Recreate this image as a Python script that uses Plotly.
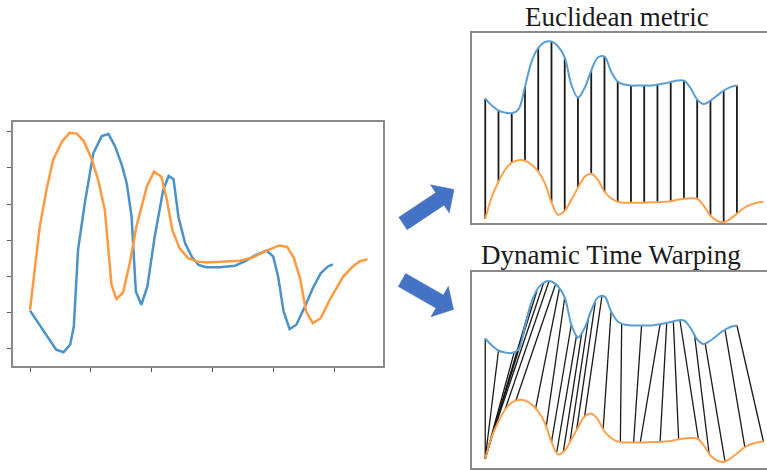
import numpy as np
import plotly.graph_objects as go

W, H = 767, 470

# ---------------- left panel data (two raw series) ----------------
left_blue_x = [0, 2.2, 4.3, 5.5, 6.6, 7.2, 7.9, 9.0, 10.4, 11.8, 12.9, 14.0, 15.1, 15.9, 16.7,
               17.4, 18.3, 19.3, 20.5, 21.9, 22.8, 23.6, 24.4, 25.5, 26.6, 27.7, 29.0, 31.2,
               33.7, 35.3, 37.2, 38.9, 40.0, 40.8, 41.7, 42.7, 43.8, 45.2, 46.5, 47.8, 49.0, 49.8]
left_blue_y = [-1.94, -2.51, -3.02, -3.09, -2.88, -2.38, -0.26, 1.02, 2.40, 2.88, 2.94, 2.59, 2.08,
               1.58, 0.66, -1.41, -1.78, -1.27, 0.10, 1.39, 1.78, 1.69, 0.66, -0.08, -0.45, -0.68,
               -0.74, -0.74, -0.70, -0.58, -0.40, -0.28, -0.45, -1.00, -1.96, -2.45, -2.33, -1.83,
               -1.32, -0.91, -0.72, -0.66]
left_orange_x = [0, 0.8, 1.6, 2.7, 3.8, 5.2, 6.5, 7.7, 8.8, 10.1, 11.2, 12.3, 13.4, 14.2, 15.3,
                 16.4, 17.5, 19.2, 20.4, 21.6, 22.5, 23.4, 24.6, 26.0, 27.4, 29.0, 34.5, 36.7,
                 38.9, 41.0, 42.3, 43.4, 44.4, 45.4, 46.5, 47.8, 49.3, 51.5, 53.1, 54.2, 55.5]
left_orange_y = [-1.92, -0.72, 0.38, 1.39, 2.22, 2.72, 2.97, 2.95, 2.75, 2.26, 1.67, 0.84, -1.23,
                 -1.62, -1.44, -0.63, 0.38, 1.48, 1.90, 1.76, 1.12, 0.29, -0.22, -0.49, -0.58,
                 -0.61, -0.56, -0.47, -0.28, -0.14, -0.18, -0.49, -1.04, -1.96, -2.29, -2.15,
                 -1.64, -1.00, -0.72, -0.58, -0.52]

# ---------------- right panels data (smoothed series) ----------------
blue_x = list(np.arange(0, 19.01, 0.5))
blue_y = [3.03, 2.89, 2.79, 2.75, 2.74, 2.81, 3.27, 3.77, 4.04, 4.16, 4.17, 4.07, 3.85, 3.31,
          3.05, 3.24, 3.59, 3.85, 3.87, 3.57, 3.37, 3.31, 3.29, 3.29, 3.29, 3.29, 3.31, 3.33,
          3.36, 3.39, 3.39, 3.24, 3.01, 2.92, 2.99, 3.09, 3.19, 3.26, 3.29]
orange_x = list(np.arange(0, 21.01, 0.5))
orange_y = [0.63, 1.07, 1.37, 1.61, 1.75, 1.80, 1.79, 1.71, 1.57, 1.34, 0.96, 0.71, 0.79, 1.01,
            1.25, 1.47, 1.53, 1.41, 1.17, 1.04, 0.97, 0.95, 0.95, 0.95, 0.95, 0.96, 0.96, 0.97,
            0.98, 1.01, 1.03, 1.04, 1.03, 0.89, 0.69, 0.59, 0.56, 0.63, 0.73, 0.84, 0.91, 0.95,
            0.97]

# Euclidean matching: same time index
euclid_idx = list(range(0, 20))

# DTW matching: (blue position, orange position)
dtw_blue = [0, 1.0, 2.2, 3.0, 3.4, 3.9, 4.4, 4.8, 5.3, 5.6, 6.0, 6.5, 6.9, 7.3, 7.8, 8.3, 8.8,
            9.5, 10.3, 11.8, 13.2, 13.7, 14.2, 14.7, 15.8, 16.6, 18.1, 19.0]
dtw_orange = [0, 0, 0, 0, 0, 0.1, 0.5, 1.5, 2.3, 3.8, 4.6, 5.0, 5.4, 5.9, 6.4, 6.9, 7.5,
              8.9, 10.2, 11.2, 11.7, 13.2, 14.6, 16.1, 16.9, 18.1, 19.6, 21.0]

BLUE_L, ORANGE_L = "#4a92c8", "#ff9a40"
BLUE_R, ORANGE_R = "#5a9ed2", "#ffa04a"
FRAME = "#8a8a8a"


def px(x):
    return x / W


def py(y):
    return 1 - y / H


fig = go.Figure()

# left panel
fig.add_trace(go.Scatter(x=left_blue_x, y=left_blue_y, mode="lines",
                         line=dict(color=BLUE_L, width=2.5), xaxis="x", yaxis="y"))
fig.add_trace(go.Scatter(x=left_orange_x, y=left_orange_y, mode="lines",
                         line=dict(color=ORANGE_L, width=2.5), xaxis="x", yaxis="y"))


def connectors(bx, ox):
    xs, ys = [], []
    for b, o in zip(bx, ox):
        yb = float(np.interp(b, blue_x, blue_y))
        yo = float(np.interp(o, orange_x, orange_y))
        xs += [b, o, None]
        ys += [yb, yo, None]
    return xs, ys


# Euclidean panel
ex, ey = connectors(euclid_idx, euclid_idx)
fig.add_trace(go.Scatter(x=ex, y=ey, mode="lines", line=dict(color="#1a1a1a", width=1.8),
                         xaxis="x2", yaxis="y2"))
fig.add_trace(go.Scatter(x=blue_x, y=blue_y, mode="lines", line=dict(color=BLUE_R, width=2, shape="spline"),
                         xaxis="x2", yaxis="y2"))
fig.add_trace(go.Scatter(x=orange_x, y=orange_y, mode="lines", line=dict(color=ORANGE_R, width=2, shape="spline"),
                         xaxis="x2", yaxis="y2"))

# DTW panel
dx, dy = connectors(dtw_blue, dtw_orange)
fig.add_trace(go.Scatter(x=dx, y=dy, mode="lines", line=dict(color="#1a1a1a", width=1.3),
                         xaxis="x3", yaxis="y3"))
fig.add_trace(go.Scatter(x=blue_x, y=blue_y, mode="lines", line=dict(color=BLUE_R, width=2, shape="spline"),
                         xaxis="x3", yaxis="y3"))
fig.add_trace(go.Scatter(x=orange_x, y=orange_y, mode="lines", line=dict(color=ORANGE_R, width=2, shape="spline"),
                         xaxis="x3", yaxis="y3"))

# axes
fig.update_layout(
    xaxis=dict(domain=[px(13), px(383)], range=[-2.8, 58.05], anchor="y",
               showline=True, mirror=True, linecolor=FRAME, linewidth=1.5,
               ticks="outside", ticklen=4, tickcolor="#555", dtick=10, tick0=0,
               showticklabels=False, showgrid=False, zeroline=False),
    yaxis=dict(domain=[py(366), py(122)], range=[-3.47, 3.27], anchor="x",
               showline=True, mirror=True, linecolor=FRAME, linewidth=1.5,
               ticks="outside", ticklen=4, tickcolor="#555", dtick=1, tick0=0,
               showticklabels=False, showgrid=False, zeroline=False),
    xaxis2=dict(domain=[px(472), 1.0], range=[-1.0, 21.27], anchor="y2",
                showline=True, mirror=True, linecolor=FRAME, linewidth=1.5,
                showticklabels=False, showgrid=False, zeroline=False, ticks=""),
    yaxis2=dict(domain=[py(223), py(33)], range=[0.546, 4.34], anchor="x2",
                showline=True, mirror=False, linecolor=FRAME, linewidth=1.5,
                showticklabels=False, showgrid=False, zeroline=False, ticks=""),
    xaxis3=dict(domain=[px(472), 1.0], range=[-1.0, 21.27], anchor="y3",
                showline=True, mirror=True, linecolor=FRAME, linewidth=1.5,
                showticklabels=False, showgrid=False, zeroline=False, ticks=""),
    yaxis3=dict(domain=[py(468), py(272)], range=[0.44, 4.36], anchor="x3",
                showline=True, mirror=False, linecolor=FRAME, linewidth=1.5,
                showticklabels=False, showgrid=False, zeroline=False, ticks=""),
)


def arrow(tail, tip, shaft_w, head_w, head_len):
    t = np.array(tail, float)
    p = np.array(tip, float)
    d = p - t
    u = d / np.linalg.norm(d)
    n = np.array([-u[1], u[0]])
    base = p - u * head_len
    pts = [t + n * shaft_w / 2, base + n * shaft_w / 2, base + n * head_w / 2, p,
           base - n * head_w / 2, base - n * shaft_w / 2, t - n * shaft_w / 2]
    path = "M " + " L ".join(f"{px(q[0]):.5f},{py(q[1]):.5f}" for q in pts) + " Z"
    return dict(type="path", xref="paper", yref="paper", path=path,
                fillcolor="#4472c4", line=dict(color="#4472c4", width=0.5))


fig.update_layout(shapes=[
    arrow((403, 223.5), (454, 189.5), 15, 34, 17),
    arrow((402, 280), (453.5, 309.5), 15, 35, 16),
])

fig.update_layout(annotations=[
    dict(text="Euclidean metric", x=px(617), y=py(17), xref="paper", yref="paper",
         showarrow=False, font=dict(family="Liberation Serif", size=27, color="#1a1a1a"),
         xanchor="center", yanchor="middle"),
    dict(text="Dynamic Time Warping", x=px(611), y=py(255), xref="paper", yref="paper",
         showarrow=False, font=dict(family="Liberation Serif", size=27, color="#1a1a1a"),
         xanchor="center", yanchor="middle"),
])

fig.update_layout(width=W, height=H, margin=dict(l=0, r=0, t=0, b=0),
                  paper_bgcolor="white", plot_bgcolor="white", showlegend=False)

fig.write_html("out.html")
